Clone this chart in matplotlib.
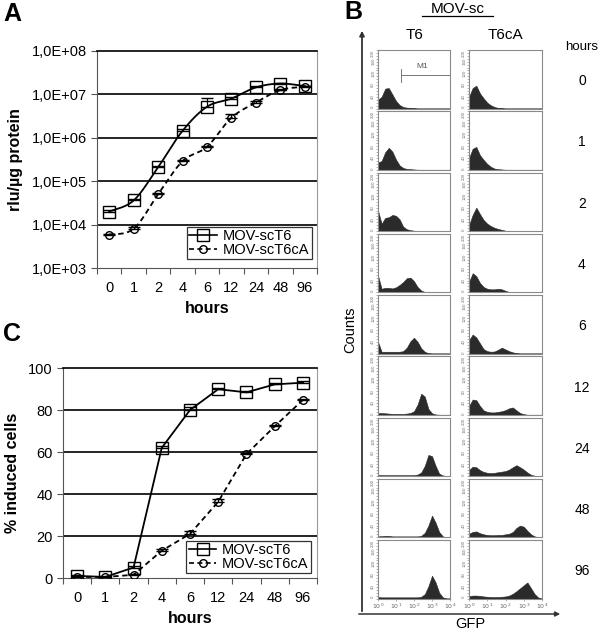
import numpy as np
import matplotlib
matplotlib.use('Agg')
import matplotlib.pyplot as plt
from matplotlib.patches import FancyArrowPatch
from matplotlib.lines import Line2D

plt.rcParams['font.family'] = ['Liberation Sans', 'DejaVu Sans']

hours = ['0', '1', '2', '4', '6', '12', '24', '48', '96']

# A: luciferase activity (rlu/ug protein)
rlu_t6 = [2.0e4, 3.6e4, 2.1e5, 1.45e6, 5.2e6, 8.0e6, 1.45e7, 1.78e7, 1.55e7]
rlu_t6_err = [1.5e3, 3e3, 1.5e4, 1.5e5, 2.9e6, 6e5, 1.0e6, 1.0e6, 5e5]
rlu_t6ca = [5.9e3, 8.0e3, 5.0e4, 2.9e5, 6.2e5, 2.9e6, 6.5e6, 1.26e7, 1.5e7]
rlu_t6ca_err = [3e2, 6e2, 4e3, 2e4, 4e4, 6e5, 5e5, 1.0e6, 1.0e6]

# C: % induced cells
pct_t6 = [1.0, 0.5, 5.0, 62.0, 80.0, 89.9, 88.4, 92.2, 93.0]
pct_t6_err = [0.3, 0.3, 0.8, 1.0, 1.5, 0.8, 0.8, 0.8, 0.8]
pct_t6ca = [0.5, 0.5, 1.5, 13.0, 21.0, 36.3, 59.0, 72.2, 84.8]
pct_t6ca_err = [0.2, 0.2, 0.4, 0.6, 1.5, 1.5, 0.6, 0.6, 0.6]

# B: GFP histograms, counts read at log10(GFP) = 0.0, 0.2, ... 4.0
gfp_log = [0.0, 0.2, 0.4, 0.6, 0.8, 1.0, 1.2, 1.4, 1.6, 1.8, 2.0,
           2.2, 2.4, 2.6, 2.8, 3.0, 3.2, 3.4, 3.6, 3.8, 4.0]
hist_t6 = [
    [30, 40, 68, 70, 48, 26, 12, 5, 3, 2, 1, 0, 0, 0, 0, 0, 0, 0, 0, 0, 0],
    [25, 30, 60, 75, 62, 35, 15, 6, 3, 2, 1, 0, 0, 0, 0, 0, 0, 0, 0, 0, 0],
    [70, 25, 45, 47, 55, 52, 40, 15, 6, 3, 1, 0, 0, 0, 0, 0, 0, 0, 0, 0, 0],
    [57, 12, 15, 15, 13, 17, 25, 35, 48, 50, 38, 18, 6, 1, 0, 0, 0, 0, 0, 0, 0],
    [40, 6, 6, 6, 6, 6, 6, 8, 20, 42, 54, 40, 18, 6, 1, 0, 0, 0, 0, 0, 0],
    [6, 6, 5, 4, 3, 3, 3, 3, 4, 6, 12, 35, 72, 62, 20, 5, 1, 0, 0, 0, 0],
    [4, 3, 3, 3, 3, 3, 3, 3, 3, 3, 3, 5, 12, 35, 72, 68, 35, 8, 2, 0, 0],
    [3, 4, 5, 5, 3, 3, 3, 3, 3, 3, 3, 3, 5, 15, 40, 74, 50, 18, 3, 0, 0],
    [5, 4, 4, 4, 4, 4, 4, 4, 4, 4, 4, 4, 6, 15, 42, 78, 55, 20, 4, 0, 0],
]
hist_t6ca = [
    [40, 70, 78, 52, 35, 20, 11, 5, 2, 1, 0, 0, 0, 0, 0, 0, 0, 0, 0, 0, 0],
    [40, 72, 78, 50, 34, 20, 10, 4, 2, 1, 0, 0, 0, 0, 0, 0, 0, 0, 0, 0, 0],
    [20, 55, 80, 58, 38, 25, 17, 11, 7, 4, 1, 0, 0, 0, 0, 0, 0, 0, 0, 0, 0],
    [35, 65, 55, 32, 18, 12, 10, 10, 12, 10, 5, 1, 0, 0, 0, 0, 0, 0, 0, 0, 0],
    [45, 65, 55, 35, 15, 8, 6, 7, 13, 20, 14, 8, 4, 1, 0, 0, 0, 0, 0, 0, 0],
    [30, 52, 50, 30, 15, 10, 8, 8, 10, 12, 16, 22, 25, 15, 6, 2, 0, 0, 0, 0, 0],
    [20, 32, 30, 20, 14, 11, 10, 11, 13, 15, 17, 22, 30, 37, 30, 22, 12, 4, 1, 0, 0],
    [12, 18, 20, 14, 10, 8, 7, 7, 8, 8, 10, 12, 18, 32, 40, 36, 22, 10, 3, 0, 0],
    [8, 10, 10, 9, 7, 6, 5, 5, 5, 6, 7, 10, 16, 25, 35, 45, 55, 35, 15, 3, 0],
]


def smooth(xs, ys, n=24):
    # catmull-rom through the points, like the spreadsheet's smoothed line
    p = np.column_stack([xs, ys]).astype(float)
    p = np.vstack([p[0], p, p[-1]])
    t = np.linspace(0, 1, n, endpoint=False)[:, None]
    out = []
    for i in range(1, len(p) - 2):
        p0, p1, p2, p3 = p[i - 1], p[i], p[i + 1], p[i + 2]
        seg = 0.5 * (2 * p1 + (-p0 + p2) * t + (2 * p0 - 5 * p1 + 4 * p2 - p3) * t ** 2
                     + (-p0 + 3 * p1 - 3 * p2 + p3) * t ** 3)
        out.append(seg)
    out.append(p[-2][None, :])
    return np.vstack(out)


W, H = 600, 630
fig = plt.figure(figsize=(W / 100, H / 100), dpi=100)


def box(x0, y0, x1, y1):
    return [x0 / W, 1 - y1 / H, (x1 - x0) / W, (y1 - y0) / H]


def style_line_axes(ax):
    x = np.arange(len(hours))
    ax.set_xlim(-0.5, len(hours) - 0.5)
    ax.set_xticks(np.arange(len(hours) + 1) - 0.5)
    ax.set_xticklabels([])
    ax.set_xticks(x, minor=True)
    ax.set_xticklabels(hours, minor=True, fontsize=10.5)
    ax.tick_params(axis='x', which='major', length=4, direction='out', color='#555')
    ax.tick_params(axis='x', which='minor', length=0, pad=9)
    ax.tick_params(axis='y', length=4, labelsize=10.5, color='#555')
    ax.spines['left'].set_color('#555')
    ax.spines['bottom'].set_color('#555')
    ax.spines['right'].set_color('#999')
    ax.spines['top'].set_color('black')
    ax.spines['top'].set_linewidth(1.2)
    ax.set_xlabel('hours', fontsize=11.5, fontweight='bold', labelpad=5)


def legend(ax, anchor):
    h1 = Line2D([], [], color='black', lw=1.2, marker='s', ms=8, mfc='none', mec='black')
    h2 = Line2D([], [], color='black', lw=1.2, ls=(0, (3, 2)), marker='o', ms=5.5,
                mfc='none', mec='black')
    lg = ax.legend([h1, h2], ['MOV-scT6', 'MOV-scT6cA'], loc='lower right',
                   bbox_to_anchor=anchor, fontsize=10.5, frameon=True, fancybox=False,
                   edgecolor='black', labelspacing=0.0, borderpad=0.15,
                   handlelength=1.9, handletextpad=0.4, borderaxespad=0)
    lg.get_frame().set_linewidth(0.9)


# ---------------- panel A ----------------
axA = fig.add_axes(box(97, 51, 317, 268))
x = np.arange(len(hours))
axA.set_yscale('log')
axA.set_ylim(1e3, 1e8)
for v in [1e4, 1e5, 1e6, 1e7]:
    axA.axhline(v, color='black', lw=1.2, zorder=1)
s1 = smooth(x, np.log10(rlu_t6))
s2 = smooth(x, np.log10(rlu_t6ca))
axA.plot(s1[:, 0], 10 ** s1[:, 1], color='black', lw=1.3, zorder=3)
axA.plot(s2[:, 0], 10 ** s2[:, 1], color='black', lw=1.3, ls=(0, (3, 2)), zorder=3)
axA.errorbar(x, rlu_t6, yerr=[np.zeros(len(x)), rlu_t6_err], fmt='none', ecolor='black',
             elinewidth=0.9, capsize=4, zorder=3)
axA.errorbar(x, rlu_t6ca, yerr=[np.zeros(len(x)), rlu_t6ca_err], fmt='none', ecolor='black',
             elinewidth=0.9, capsize=4, zorder=3)
axA.plot(x, rlu_t6, ls='none', marker='s', ms=8, mfc='none', mec='black', mew=1.0, zorder=4)
axA.plot(x, rlu_t6ca, ls='none', marker='o', ms=5.5, mfc='none', mec='black', mew=1.0, zorder=4)
axA.yaxis.set_minor_locator(matplotlib.ticker.NullLocator())
yt = [1e3, 1e4, 1e5, 1e6, 1e7, 1e8]
axA.set_yticks(yt)
axA.set_yticklabels(['1,0E+0%d' % int(np.log10(v)) for v in yt])
style_line_axes(axA)
axA.set_ylabel('rlu/µg protein', fontsize=11.5, fontweight='bold', labelpad=6)
legend(axA, (0.975, 0.04))

# ---------------- panel C ----------------
axC = fig.add_axes(box(63, 368, 317, 578))
axC.set_ylim(0, 100)
for v in [20, 40, 60, 80]:
    axC.axhline(v, color='black', lw=1.2, zorder=1)
axC.errorbar(x, pct_t6, yerr=[np.zeros(len(x)), pct_t6_err], fmt='none', ecolor='black',
             elinewidth=0.9, capsize=4, zorder=3)
axC.errorbar(x, pct_t6ca, yerr=[np.zeros(len(x)), pct_t6ca_err], fmt='none', ecolor='black',
             elinewidth=0.9, capsize=4, zorder=3)
axC.plot(x, pct_t6, color='black', lw=1.3, marker='s', ms=8, mfc='none', mec='black',
         mew=1.0, zorder=4)
axC.plot(x, pct_t6ca, color='black', lw=1.3, ls=(0, (3, 2)), marker='o', ms=5.5,
         mfc='none', mec='black', mew=1.0, zorder=4)
axC.set_yticks([0, 20, 40, 60, 80, 100])
style_line_axes(axC)
axC.set_ylabel('% induced cells', fontsize=11.5, fontweight='bold', labelpad=6)
legend(axC, (0.976, 0.024))

# ---------------- panel B ----------------
cols = [(378, 450), (469, 542)]
row_top, row_pitch, row_h = 50, 61.25, 58.5
gx = 10 ** np.array(gfp_log)
count_ticks = [0, 40, 80, 120, 160, 200]
for r in range(len(hours)):
    y0 = row_top + r * row_pitch
    for c, data in enumerate([hist_t6, hist_t6ca]):
        ax = fig.add_axes(box(cols[c][0], y0, cols[c][1], y0 + row_h))
        ax.set_xscale('log')
        ax.set_xlim(1, 1e4)
        ax.set_ylim(0, 200)
        ax.fill_between(gx, data[r], color='#2b2b2b', lw=0.4, edgecolor='#2b2b2b')
        for s in ax.spines.values():
            s.set_color('#8a8a8a')
            s.set_linewidth(0.8)
        ax.set_yticks(count_ticks)
        labs = ax.set_yticklabels([str(v) for v in count_ticks], rotation=90,
                                  va='center', fontsize=3.2, color='#777')
        labs[0].set_va('bottom')
        labs[-1].set_va('top')
        ax.yaxis.set_minor_locator(matplotlib.ticker.MultipleLocator(10))
        ax.tick_params(axis='y', which='both', length=1.2, width=0.4, pad=0.8, color='#777')
        ax.xaxis.set_minor_locator(matplotlib.ticker.NullLocator())
        ax.set_xticks([1, 10, 100, 1000, 10000])
        if r == len(hours) - 1:
            ax.set_xticklabels([r'$10^0$', r'$10^1$', r'$10^2$', r'$10^3$', r'$10^4$'],
                               fontsize=4.5, color='#666')
            ax.tick_params(axis='x', length=1.5, width=0.4, pad=1, color='#777')
        else:
            ax.set_xticklabels([])
            ax.tick_params(axis='x', length=0)
        if r == 0 and c == 0:
            m1 = 10 ** 1.28
            ax.plot([m1, 1e4], [113, 113], color='#777', lw=0.7)
            ax.plot([m1, m1], [92, 134], color='#777', lw=0.7)
            ax.text(10 ** 2.45, 130, 'M1', fontsize=6, color='#555', ha='center', va='bottom')
    fig.text(582 / W, 1 - (y0 + row_h / 2 + 2) / H, hours[r], fontsize=10, ha='center',
             va='center')

fig.text(582 / W, 1 - 47 / H, 'hours', fontsize=9.5, ha='center', va='center')
fig.text(415 / W, 1 - 35 / H, 'T6', fontsize=11, ha='center', va='center')
fig.text(505 / W, 1 - 35 / H, 'T6cA', fontsize=11, ha='center', va='center')
fig.text(458 / W, 1 - 9 / H, 'MOV-sc', fontsize=11, ha='center', va='center')
fig.add_artist(Line2D([422 / W, 493 / W], [1 - 16 / H, 1 - 16 / H], color='black', lw=0.9))

# Counts / GFP axis arrows
fig.add_artist(FancyArrowPatch((362 / W, 1 - 614 / H), (362 / W, 1 - 28 / H),
                               transform=fig.transFigure, arrowstyle='-|>', mutation_scale=7,
                               color='#333', lw=1.3))
fig.add_artist(FancyArrowPatch((356 / W, 1 - 614 / H), (563 / W, 1 - 614 / H),
                               transform=fig.transFigure, arrowstyle='-|>', mutation_scale=7,
                               color='#333', lw=1.1))
fig.text(350 / W, 1 - 330 / H, 'Counts', fontsize=10.5, rotation=90, ha='center', va='center')
fig.text(470 / W, 1 - 624 / H, 'GFP', fontsize=10.5, ha='center', va='center')

# panel letters
fig.text(3 / W, 1 - 2 / H, 'A', fontsize=18, fontweight='bold', ha='left', va='top')
fig.text(3 / W, 1 - 322 / H, 'C', fontsize=18, fontweight='bold', ha='left', va='top')
fig.text(344 / W, 1 - 0 / H, 'B', fontsize=18, fontweight='bold', ha='left', va='top')

fig.savefig('out.png', dpi=100)
